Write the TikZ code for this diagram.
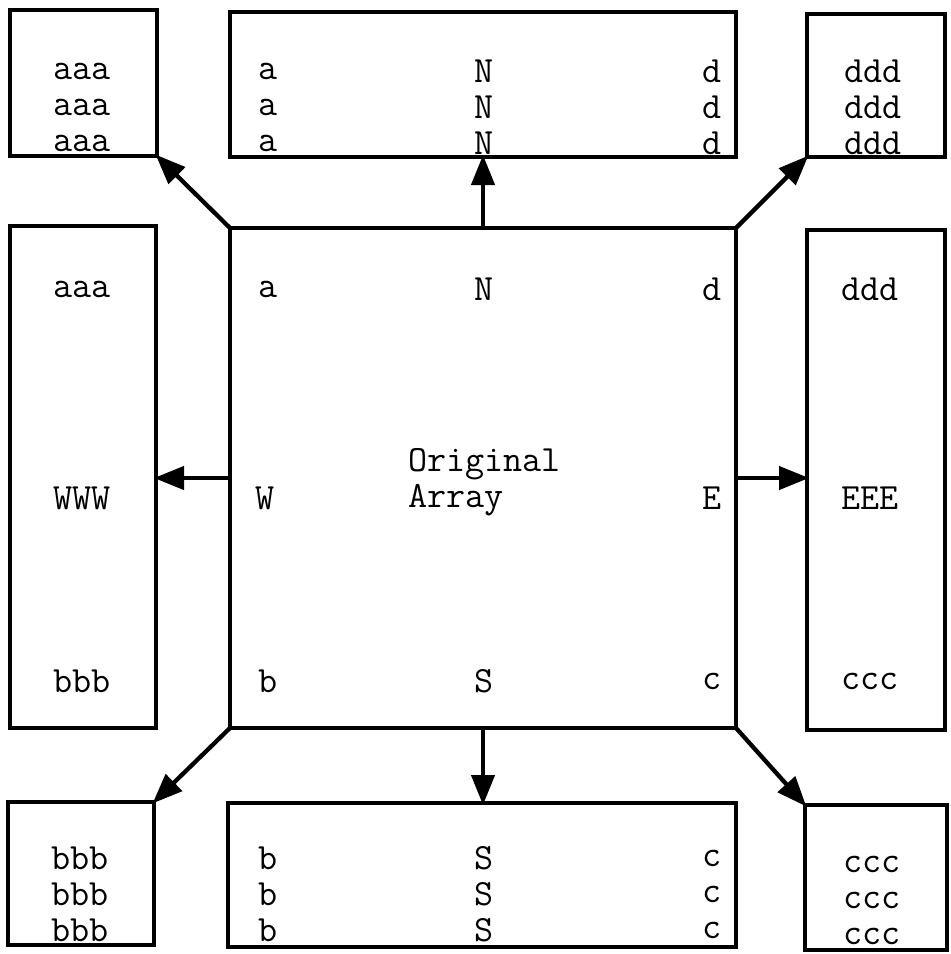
\documentclass[tikz,border=0pt]{standalone}
\usetikzlibrary{arrows.meta}
\begin{document}
\begin{tikzpicture}[x=1pt,y=-1pt,
  box/.style={draw,line width=4.3pt,rectangle,inner sep=0pt,outer sep=0pt},
  lbl/.style={font=\fontsize{37}{36}\selectfont\ttfamily,inner sep=0pt,align=center},
  arr/.style={line width=4.3pt,-{Triangle[length=30pt,width=23pt]},shorten >=-2pt}]
\useasboundingbox (0,0) rectangle (951,954);
% boxes
\node[box,minimum width=147pt,minimum height=146pt] (TL) at (83.5,83) {};
\node[box,minimum width=506pt,minimum height=145pt] (TM) at (483,84.5) {};
\node[box,minimum width=138pt,minimum height=143pt] (TR) at (876,85.5) {};
\node[box,minimum width=146pt,minimum height=502pt] (L) at (83,477) {};
\node[box,minimum width=506pt,minimum height=500pt] (C) at (483,478) {};
\node[box,minimum width=138pt,minimum height=500pt] (R) at (876,480) {};
\node[box,minimum width=146pt,minimum height=143pt] (BL) at (81,873.5) {};
\node[box,minimum width=508pt,minimum height=144pt] (BM) at (482,875) {};
\node[box,minimum width=142pt,minimum height=145pt] (BR) at (876,877.5) {};
% arrows
\draw[arr] (C.north west) -- (TL.south east);
\draw[arr] (C.north) -- (C.north |- TM.south);
\draw[arr] (C.north east) -- (TR.south west);
\draw[arr] (C.west) -- (C.west -| L.east);
\draw[arr] (C.east) -- (C.east -| R.west);
\draw[arr] (C.south west) -- (BL.north east);
\draw[arr] (C.south) -- (C.south |- BM.north);
\draw[arr] (C.south east) -- (BR.north west);
% texts top row
\node[lbl] (tlt) at (82,107) {aaa\\aaa\\aaa};
\node[lbl] (tma) at (268,107) {a\\a\\a};
\node[lbl] (tmn) at (484,107) {N\\N\\N};
\node[lbl] (tmd) at (712,107) {d\\d\\d};
\node[lbl] (trt) at (873,107) {ddd\\ddd\\ddd};
% middle row
\node[lbl] (la) at (82,289) {aaa};
\node[lbl] (lw) at (82,498) {WWW};
\node[lbl] (lb) at (82,681) {bbb};
\node[lbl] (ca) at (268,289) {a};
\node[lbl] (cn) at (484,289) {N};
\node[lbl] (cd) at (712,289) {d};
\node[lbl] (cw) at (265,498) {W};
\node[lbl,align=left,anchor=west] (co) at (408,482) {Original\\Array};
\node[lbl] (ce) at (712,498) {E};
\node[lbl] (cb) at (268,681) {b};
\node[lbl] (cs) at (484,681) {S};
\node[lbl] (cc) at (712,681) {c};
\node[lbl] (ra) at (870,289) {ddd};
\node[lbl] (re) at (870,498) {EEE};
\node[lbl] (rc) at (870,681) {ccc};
% bottom row
\node[lbl] (blt) at (80,894) {bbb\\bbb\\bbb};
\node[lbl] (bmb) at (268,894) {b\\b\\b};
\node[lbl] (bms) at (484,894) {S\\S\\S};
\node[lbl] (bmc) at (712,894) {c\\c\\c};
\node[lbl] (brt) at (872,900) {ccc\\ccc\\ccc};
\end{tikzpicture}
\end{document}
